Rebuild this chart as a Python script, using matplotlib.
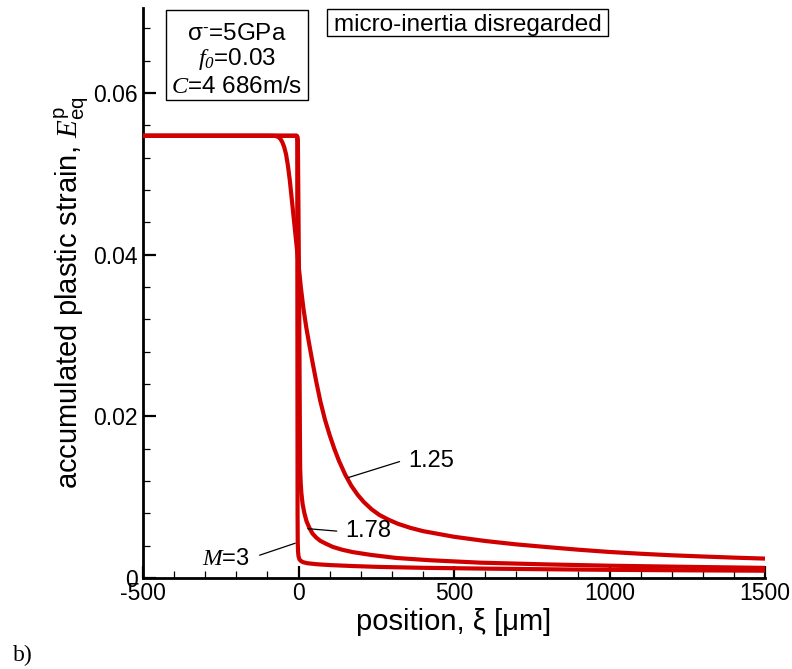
import matplotlib
matplotlib.use("Agg")
import matplotlib.pyplot as plt
from matplotlib.patches import Rectangle
from matplotlib.ticker import MultipleLocator

plt.rcParams['font.family'] = ['Liberation Sans', 'DejaVu Sans']
plt.rcParams['mathtext.fontset'] = 'custom'
plt.rcParams['mathtext.rm'] = 'Liberation Sans'
plt.rcParams['mathtext.it'] = 'Liberation Serif:italic'
plt.rcParams['mathtext.bf'] = 'Liberation Sans:bold'
plt.rcParams['mathtext.cal'] = 'Liberation Serif:italic'

# ---- data ----
x_m125 = [-500, -100, -75, -65, -58, -52, -46, -40, -34, -28, -22, -15, -8, 0, 8, 16, 25, 35, 45,
          57, 70, 85, 100, 115, 130, 150, 170, 190, 210, 235, 260, 290, 320, 360, 400, 450, 500,
          600, 700, 800, 900, 1000, 1100, 1200, 1300, 1400, 1500]
y_m125 = [0.0547, 0.0547, 0.05468, 0.05455, 0.0543, 0.0539, 0.0533, 0.0524, 0.0510, 0.0492,
          0.0470, 0.0444, 0.0418, 0.0388, 0.0358, 0.0333, 0.0310, 0.0288, 0.0267,
          0.0243, 0.0219, 0.0196, 0.0177, 0.0160, 0.0145, 0.0128, 0.0114, 0.0103, 0.0094,
          0.0085, 0.0078, 0.0072, 0.0067, 0.0062, 0.0058, 0.00545, 0.0051,
          0.00458, 0.00416, 0.00382, 0.00350, 0.00322, 0.00300, 0.00281, 0.00266, 0.00252, 0.0024]

x_m178 = [-500, -6, -3.5, -2, 0, 2, 3.5, 4.5, 5.4, 7, 9, 13, 19, 26, 35, 45, 57, 70, 85, 110, 140,
          175, 234, 314, 421, 582, 800, 1000, 1250, 1500]
y_m178 = [0.0547, 0.0547, 0.0546, 0.0542, 0.045, 0.035, 0.025, 0.018, 0.0135, 0.0118, 0.0106,
          0.0092, 0.0080, 0.0070, 0.0062, 0.0055, 0.0050, 0.0046, 0.0043, 0.00385, 0.0035,
          0.0032, 0.00285, 0.00248, 0.0022, 0.0019, 0.00168, 0.00152, 0.00138, 0.00125]

x_m3 = [-500, -6, -4.5, -4, -3.5, -3, -2.5, -1.5, 0, 3, 8, 15, 30, 60, 100, 180, 260, 400, 600,
        800, 1000, 1250, 1500]
y_m3 = [0.0547, 0.0547, 0.0545, 0.0540, 0.030, 0.008, 0.0045, 0.0033, 0.0027, 0.0023, 0.0021,
        0.00195, 0.00182, 0.00170, 0.00160, 0.00147, 0.00137, 0.00126, 0.00116,
        0.00108, 0.00101, 0.00095, 0.0009]

labels = ["1.25", "1.78", r"$\mathit{M}$=3"]
label_xy = [(428, 0.0145), (223, 0.00583), (-232, 0.00232)]
leader_from = [(325, 0.0144), (123, 0.0058), (-125, 0.00282)]
leader_to = [(158.5, 0.0124), (30, 0.0061), (-10.6, 0.0043)]

xticks = [-500, 0, 500, 1000, 1500]
yticks = [0, 0.02, 0.04, 0.06]
ytick_labels = ["0", "0.02", "0.04", "0.06"]

red = '#d10000'

fig = plt.figure(figsize=(7.92, 6.69), dpi=100)
ax = fig.add_axes([143 / 792, 1 - 578 / 669, (765 - 143) / 792, (578 - 8) / 669])

for xs, ys in [(x_m3, y_m3), (x_m178, y_m178), (x_m125, y_m125)]:
    ax.plot(xs, ys, color=red, lw=3.0, solid_joinstyle='round', solid_capstyle='butt', zorder=3)

ax.set_xlim(-500, 1500)
ax.set_ylim(0, 0.0705)

for sp in ['top', 'right']:
    ax.spines[sp].set_visible(False)
for sp in ['left', 'bottom']:
    ax.spines[sp].set_linewidth(2.0)

ax.set_xticks(xticks)
ax.set_xticklabels([str(v) for v in xticks])
ax.set_yticks(yticks)
ax.set_yticklabels(ytick_labels)
ax.xaxis.set_minor_locator(MultipleLocator(100))
ax.yaxis.set_minor_locator(MultipleLocator(0.004))
ax.tick_params(which='major', direction='in', length=9, width=1.6, labelsize=16.5)
ax.tick_params(which='minor', direction='in', length=5, width=0.9)
ax.tick_params(axis='x', which='major', pad=3)
ax.tick_params(axis='y', which='major', pad=4)

ax.set_xlabel(r"position, ξ [μm]", fontsize=21, labelpad=2)
ax.set_ylabel(r"accumulated plastic strain, $\mathit{E}_{\mathrm{eq}}^{\mathrm{p}}$", fontsize=21, labelpad=1)

for lab, pos, p0, p1 in zip(labels, label_xy, leader_from, leader_to):
    ax.annotate("", xy=p1, xytext=p0,
                arrowprops=dict(arrowstyle='-', color='black', lw=0.9, shrinkA=0, shrinkB=0))
    ax.text(pos[0], pos[1], lab, fontsize=17, ha='center', va='center')

# parameter box
fig.patches.append(Rectangle((166 / 792, 1 - 100 / 669), (308 - 166) / 792, 90 / 669,
                             transform=fig.transFigure, fill=False, ec='black', lw=1.0))
fig.text(237 / 792, 1 - 40 / 669, r"σ$^{\text{-}}$=5GPa", fontsize=17.5, ha='center', va='baseline')
fig.text(237 / 792, 1 - 65 / 669, r"$\mathit{f}_{\mathcal{0}}$=0.03", fontsize=17.5, ha='center', va='baseline')
fig.text(237 / 792, 1 - 93 / 669, r"$\mathit{C}$=4 686m/s", fontsize=17.5, ha='center', va='baseline')

# micro-inertia box
fig.patches.append(Rectangle((327 / 792, 1 - 36 / 669), (608 - 327) / 792, 27 / 669,
                             transform=fig.transFigure, fill=False, ec='black', lw=1.0))
fig.text(468 / 792, 1 - 31.5 / 669, "micro-inertia disregarded", fontsize=17.5, ha='center', va='baseline')

fig.text(13 / 792, 1 - 661 / 669, "b)", fontsize=17, family='Liberation Serif', va='baseline')

fig.savefig("out.png", dpi=100)
